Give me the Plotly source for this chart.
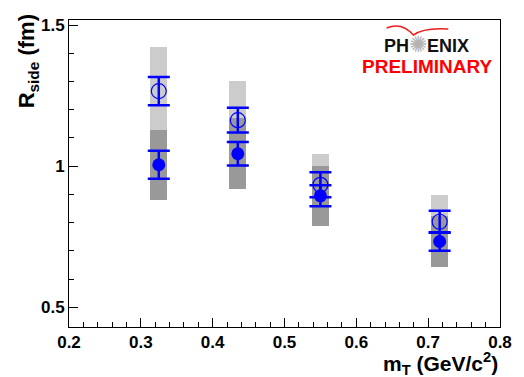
import plotly.graph_objects as go

# Transverse mass bins (GeV/c^2)
mt = [0.325, 0.435, 0.55, 0.716]

# Open-symbol series: R_side (fm), statistical and systematic errors
r_open = [1.266, 1.163, 0.934, 0.803]
stat_open = [0.050, 0.044, 0.044, 0.039]
sys_open = [0.158, 0.138, 0.110, 0.096]

# Filled-symbol series
r_filled = [1.005, 1.044, 0.895, 0.733]
stat_filled = [0.050, 0.042, 0.037, 0.033]
sys_filled = [0.124, 0.126, 0.107, 0.090]

BLUE = "#0000ff"
FONT = "Liberation Sans, Arial, Helvetica, sans-serif"

fig = go.Figure()

# Systematic-error boxes
fig.add_trace(go.Bar(
    x=mt, y=[2 * s for s in sys_open],
    base=[r - s for r, s in zip(r_open, sys_open)],
    width=0.024, marker=dict(color="#cccccc", line=dict(width=0)),
    showlegend=False, hoverinfo="skip"))
fig.add_trace(go.Bar(
    x=mt, y=[2 * s for s in sys_filled],
    base=[r - s for r, s in zip(r_filled, sys_filled)],
    width=0.024, marker=dict(color="#999999", line=dict(width=0)),
    showlegend=False, hoverinfo="skip"))

# Points with statistical error bars
fig.add_trace(go.Scatter(
    x=mt, y=r_open, mode="markers",
    marker=dict(symbol="circle-open", size=15, color=BLUE, line=dict(width=1.2, color=BLUE)),
    error_y=dict(type="data", array=stat_open, color=BLUE, thickness=2.5, width=11),
    showlegend=False))
fig.add_trace(go.Scatter(
    x=mt, y=r_filled, mode="markers",
    marker=dict(symbol="circle", size=13, color=BLUE),
    error_y=dict(type="data", array=stat_filled, color=BLUE, thickness=2.5, width=11),
    showlegend=False))

axis_common = dict(
    showline=True, linecolor="black", linewidth=1, mirror=True,
    ticks="inside", tickcolor="black", ticklen=9, tickwidth=1,
    showgrid=False, zeroline=False,
    tickfont=dict(family=FONT, size=17, color="black", weight="bold"),
)

fig.update_xaxes(range=[0.2, 0.8], dtick=0.1, tick0=0.2,
                 minor=dict(ticks="inside", ticklen=5, dtick=0.02, tickcolor="black"),
                 **axis_common)
fig.update_yaxes(range=[0.43, 1.518], dtick=0.5, tick0=0.5,
                 minor=dict(ticks="inside", ticklen=5, dtick=0.1, tickcolor="black"),
                 **axis_common)

annotations = [
    dict(text="R<sub>side</sub> (fm)", textangle=-90, x=-0.093, y=0.865,
         xref="paper", yref="paper", xanchor="center", yanchor="middle", showarrow=False,
         font=dict(family=FONT, size=22, color="black", weight="bold")),
    dict(text="m<sub>T</sub> (GeV/c<sup>2</sup>)", x=1.0, y=-0.118,
         xref="paper", yref="paper", xanchor="right", yanchor="middle", showarrow=False,
         font=dict(family=FONT, size=21, color="black", weight="bold")),
    dict(text="PH<span style='color:#b4b4b4;font-size:22px;font-weight:normal'>✺</span>ENIX",
         x=0.83, y=0.92,
         xref="paper", yref="paper", xanchor="center", yanchor="middle", showarrow=False,
         font=dict(family=FONT, size=18, color="#111111", weight="bold")),
    dict(text="PRELIMINARY", x=0.832, y=0.848,
         xref="paper", yref="paper", xanchor="center", yanchor="middle", showarrow=False,
         font=dict(family=FONT, size=19, color="#ff0000", weight="bold")),
]

shapes = [
    dict(type="path", xref="paper", yref="paper",
         path="M 0.737,0.974 Q 0.772,0.995 0.799,0.951 Q 0.822,0.976 0.880,0.971",
         line=dict(color="#ee1c1c", width=1.5)),
]

fig.update_layout(
    width=524, height=377,
    margin=dict(l=69, r=13, t=20, b=50),
    paper_bgcolor="white", plot_bgcolor="white",
    barmode="overlay", bargap=0,
    annotations=annotations, shapes=shapes,
    font=dict(family=FONT),
)

fig.write_html("out.html")
